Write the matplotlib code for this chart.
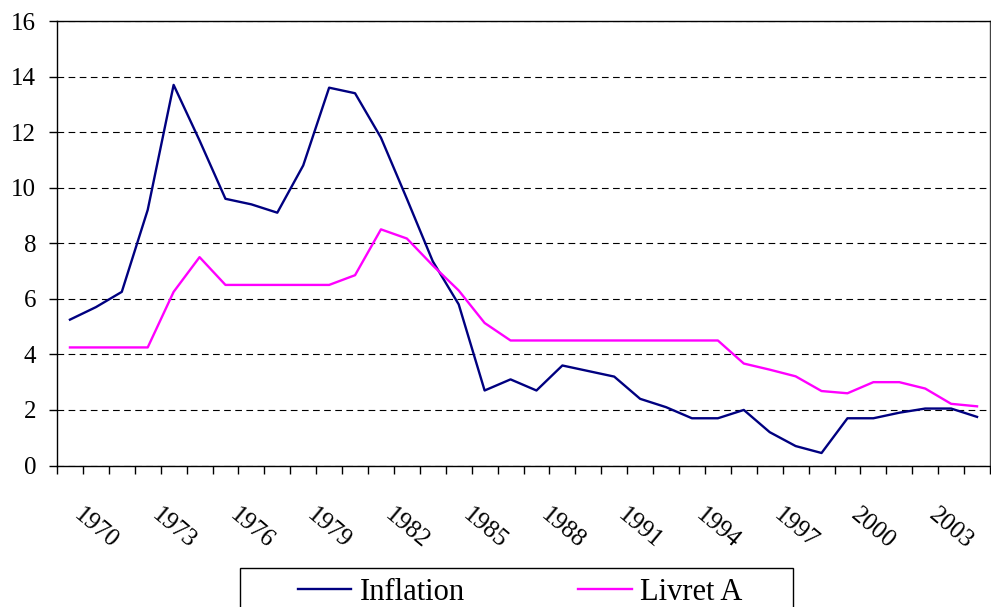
import numpy as np
import matplotlib
matplotlib.use('Agg')
import matplotlib.pyplot as plt
import matplotlib.transforms as mtransforms
from matplotlib.patches import Rectangle

plt.rcParams['font.family'] = ['Liberation Serif', 'DejaVu Serif']

years = list(range(1969, 2005))
inflation = [5.25, 5.7, 6.25, 9.2, 13.7, 11.7, 9.6, 9.4, 9.1, 10.8,
             13.6, 13.4, 11.8, 9.6, 7.35, 5.8, 2.7, 3.1, 2.7, 3.6,
             3.4, 3.2, 2.4, 2.1, 1.7, 1.7, 2.0, 1.2, 0.7, 0.45,
             1.7, 1.7, 1.9, 2.05, 2.05, 1.75]
livret_a = [4.25, 4.25, 4.25, 4.25, 6.25, 7.5, 6.5, 6.5, 6.5, 6.5,
            6.5, 6.85, 8.5, 8.17, 7.2, 6.3, 5.13, 4.5, 4.5, 4.5,
            4.5, 4.5, 4.5, 4.5, 4.5, 4.5, 3.67, 3.45, 3.21, 2.68,
            2.6, 3.0, 3.0, 2.77, 2.22, 2.13]
label_years = list(range(1970, 2004, 3))

fig = plt.figure(figsize=(9.91, 6.07), dpi=100)
ax = fig.add_axes([57/991, 1 - 465.5/607, 933/991, 444.5/607])

ax.plot(years, inflation, color='#000080', lw=1.7, label='Inflation')
ax.plot(years, livret_a, color='#FF00FF', lw=1.7, label='Livret A')

ax.set_xlim(years[0] - 0.5, years[-1] + 0.5)
ax.set_ylim(0, 16)
ax.set_yticks(np.arange(0, 17, 2))
ax.yaxis.grid(True, color='black', ls=(0, (6, 4)), lw=0.8)

ax.set_xticks(label_years)
ax.set_xticklabels([str(y) for y in label_years], rotation=-40,
                   ha='center', va='top')
shift = mtransforms.ScaledTranslation(5/72, 0, fig.dpi_scale_trans)
for lab in ax.get_xticklabels():
    lab.set_transform(lab.get_transform() + shift)
ax.set_xticks(np.arange(years[0] - 0.5, years[-1] + 1), minor=True)
ax.tick_params(axis='x', which='major', length=0, pad=28, labelsize=18)
ax.tick_params(axis='x', which='minor', length=6, width=1, direction='out')
ax.tick_params(axis='y', length=6, width=1, labelsize=18, pad=9)

for s in ax.spines.values():
    s.set_linewidth(1.0)
ax.spines['right'].set_color('#444444')

# legend frame (lower part falls off the figure)
fig.patches.append(Rectangle((240/991, -0.05), 553/991, 0.05 + 1 - 568/607,
                             transform=fig.transFigure, fill=False,
                             edgecolor='black', lw=1.0))
fig.legend(loc='center left', ncol=2,
           bbox_to_anchor=(298/991, 1 - 592/607),
           fontsize=22, frameon=False, handlelength=1.75,
           handletextpad=0.28, columnspacing=3.7,
           borderpad=0, borderaxespad=0)

fig.savefig('out.png', dpi=100)
